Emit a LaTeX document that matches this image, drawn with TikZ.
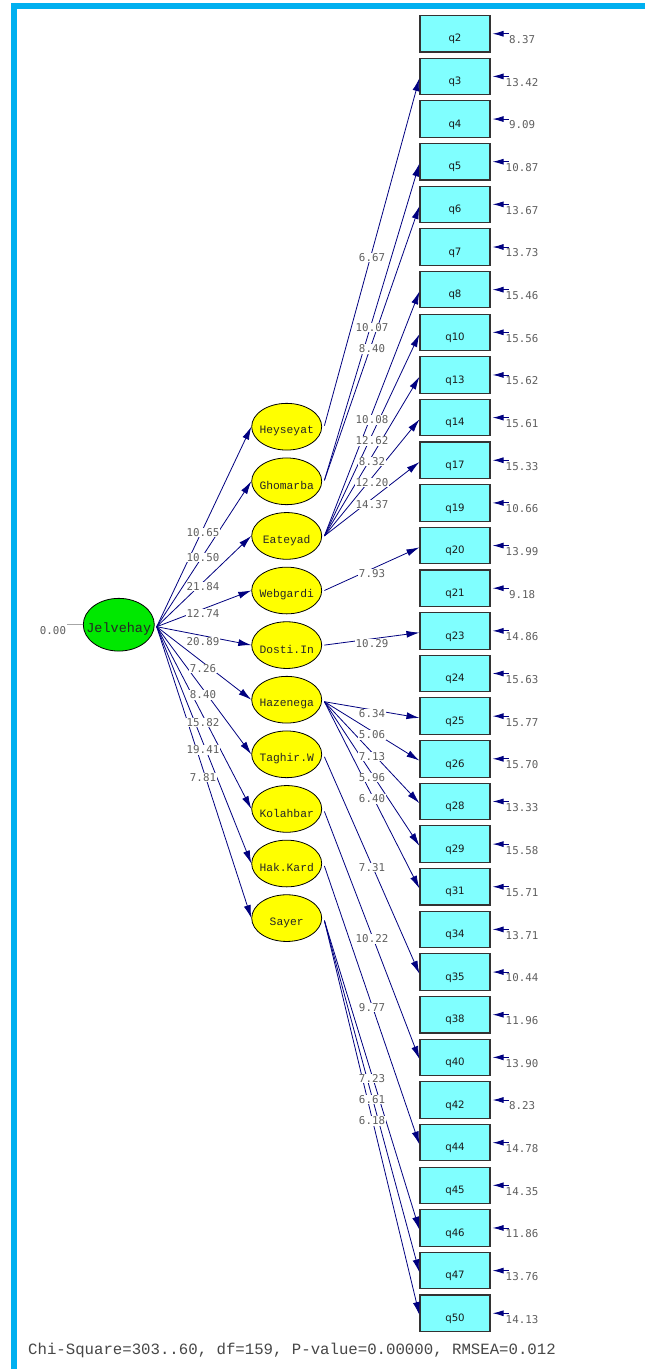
\documentclass[tikz,border=0pt]{standalone}
\usepackage{fontspec}
\usetikzlibrary{arrows.meta,shapes.geometric}
\newfontfamily\numf{DejaVu Sans Mono}
\newfontfamily\courf{Liberation Mono}
\newfontfamily\boxf{DejaVu Sans}
\definecolor{navyc}{RGB}{0,0,128}
\definecolor{qcyan}{RGB}{128,255,255}
\definecolor{lyellow}{RGB}{255,255,0}
\definecolor{lgreen}{RGB}{0,232,0}
\definecolor{framec}{RGB}{0,176,240}
\definecolor{numgray}{RGB}{95,95,95}
\begin{document}
\begin{tikzpicture}[x=1pt,y=-1pt,
 qbox/.style={draw=black!80, line width=1.1pt, fill=qcyan, minimum width=70pt, minimum height=36.5pt, inner sep=0pt},
 qtxt/.style={font=\boxf\fontsize{10.2}{12}\selectfont, text=black!90, inner sep=0pt},
 lat/.style={ellipse, draw=black, line width=0.8pt, fill=lyellow, minimum width=70pt, minimum height=46.7pt, inner sep=0pt},
 lattxt/.style={font=\courf\fontsize{11.3}{13}\selectfont, text=black!85, inner sep=0pt},
 num/.style={font=\numf\fontsize{10.8}{12}\selectfont, text=numgray, inner sep=0.7pt},
 lbl/.style={num, fill=white},
 arr/.style={draw=navyc, line width=0.8pt, -{Latex[length=13pt,width=7pt]}},
 earr/.style={draw=navyc, line width=0.9pt, -{Latex[length=11pt,width=6pt]}},
]
\useasboundingbox (0,0) rectangle (645,1369);
\fill[white] (0,0) rectangle (645,1369);
\fill[framec] (11,3) rectangle (645,9);
\fill[framec] (11,3) rectangle (17,1369);

% observed variables with error terms
\foreach \n/\e [count=\k from 0] in {2/8.37, 3/13.42, 4/9.09, 5/10.87, 6/13.67, 7/13.73, 8/15.46, 10/15.56, 13/15.62, 14/15.61, 17/15.33, 19/10.66, 20/13.99, 21/9.18, 23/14.86, 24/15.63, 25/15.77, 26/15.70, 28/13.33, 29/15.58, 31/15.71, 34/13.71, 35/10.44, 38/11.96, 40/13.90, 42/8.23, 44/14.78, 45/14.35, 46/11.86, 47/13.76, 50/14.13} {
  \node[qbox] (q\n) at (455, {33.75+\k*42.65}) {};
  \node[qtxt] (t\n) at ([yshift=-5.5pt]q\n.center) {q\n};
  \node[num] (e\n) at ([xshift=67pt,yshift=-6pt]q\n.center) {\e};
  \draw[earr] ([xshift=18pt]q\n.east) -- ([xshift=2pt]q\n.east);
}

% latent variables
\foreach \nm/\txt [count=\k from 0] in {heys/Heyseyat, ghom/Ghomarba, eate/Eateyad, webg/Webgardi, dost/Dosti.In, haze/Hazenega, tagh/Taghir.W, kola/Kolahbar, hakk/Hak.Kard, saye/Sayer} {
  \node[lat] (\nm) at (286.7, {426.7+\k*54.6}) {};
  \node[lattxt] (\nm t) at ([yshift=-4.3pt]\nm.center) {\txt};
}

% second-order factor
\node[ellipse, draw=black, line width=0.8pt, fill=lgreen, minimum width=71pt, minimum height=52.7pt, inner sep=0pt] (jel) at (118.8,624.7) {};
\node[font=\courf\fontsize{13.5}{15}\selectfont, text=black!85, inner sep=0pt] (jelt) at ([yshift=-4.3pt]jel.center) {Jelvehay};
\node[num] (jvar) at (53,631) {0.00};
\coordinate (jin) at (67,624.7);
\draw[black!35, line width=0.7pt] (jin) -- (jel.west);

% second-order paths
\foreach \nm in {heys, ghom, eate, webg, dost, haze, tagh, kola, hakk, saye} {
  \draw[arr] ([xshift=2pt,yshift=-2pt]jel.east) -- (\nm.west);
}

% first-order loadings
\draw[arr] ([xshift=2.3pt,yshift=1pt]heys.east) -- ([yshift=-1.75pt]q3.west);
\draw[arr] ([xshift=2.3pt,yshift=1pt]ghom.east) -- ([yshift=-1.75pt]q5.west);
\draw[arr] ([xshift=2.3pt,yshift=1pt]ghom.east) -- ([yshift=-1.75pt]q6.west);
\foreach \q in {8,10,13,14,17} {
  \draw[arr] ([xshift=2.3pt]eate.east) -- ([yshift=-1.75pt]q\q.west);
}
\draw[arr] ([xshift=2.3pt]webg.east) -- ([yshift=-1.75pt]q20.west);
\draw[arr] ([xshift=2.3pt]dost.east) -- ([yshift=-1.75pt]q23.west);
\foreach \q in {25,26,28,29,31} {
  \draw[arr] ([xshift=2.3pt,yshift=-2pt]haze.east) -- ([yshift=-1.75pt]q\q.west);
}
\draw[arr] ([xshift=2.3pt,yshift=-2.5pt]tagh.east) -- ([yshift=-1.75pt]q35.west);
\draw[arr] ([xshift=2.3pt,yshift=-2.5pt]kola.east) -- ([yshift=-1.75pt]q40.west);
\draw[arr] ([xshift=2.3pt,yshift=-2.5pt]hakk.east) -- ([yshift=-1.75pt]q44.west);
\foreach \q in {46,47,50} {
  \draw[arr] ([xshift=2.3pt,yshift=-2.5pt]saye.east) -- ([yshift=-1.75pt]q\q.west);
}

% labels of second-order paths
\foreach \v/\y in {10.65/532.7, 10.50/557.5, 21.84/586.7, 12.74/613.3, 20.89/641.7, 7.26/668.3, 8.40/695, 15.82/722.7, 19.41/750, 7.81/777.3} {
  \node[lbl] at (203,\y) {\v};
}
% labels of first-order loadings
\foreach \v/\y in {6.67/257.7, 10.07/327.7, 8.40/349, 10.08/420, 12.62/441, 8.32/461.7, 12.20/482.7, 14.37/504.3, 7.93/573.3, 10.29/644, 6.34/713.3, 5.06/735, 7.13/756.7, 5.96/777.7, 6.40/799, 7.31/867.7, 10.22/939, 9.77/1007.7, 7.23/1078.3, 6.61/1099.3, 6.18/1121} {
  \node[lbl] at (372,\y) {\v};
}

\node[font=\courf\fontsize{15.7}{18}\selectfont, text=black!72, inner sep=0pt] (fitstat) at (292,1350.5) {Chi-Square=303..60, df=159, P-value=0.00000, RMSEA=0.012};
\end{tikzpicture}
\end{document}
